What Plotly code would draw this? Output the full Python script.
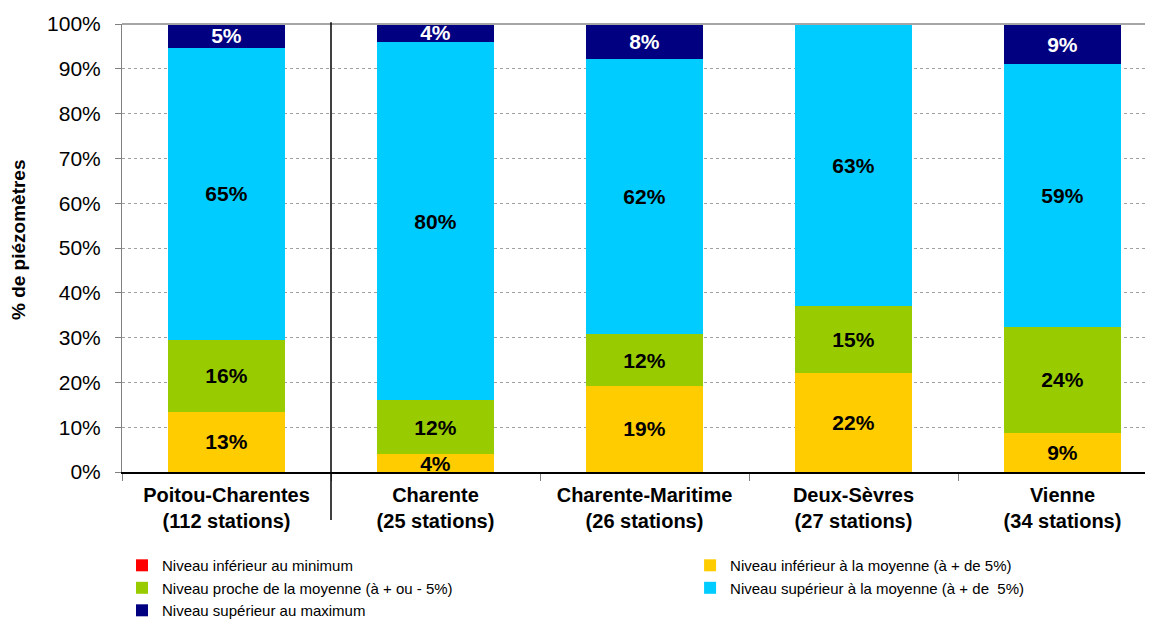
import plotly.graph_objects as go

categories = ["<b>Poitou-Charentes</b><br><b>(112 stations)</b>", "<b>Charente</b><br><b>(25 stations)</b>",
              "<b>Charente-Maritime</b><br><b>(26 stations)</b>", "<b>Deux-Sèvres</b><br><b>(27 stations)</b>",
              "<b>Vienne</b><br><b>(34 stations)</b>"]

series_names = ["Niveau inférieur au minimum",
                "Niveau inférieur à la moyenne (à + de 5%)",
                "Niveau proche de la moyenne (à + ou - 5%)",
                "Niveau supérieur à la moyenne (à + de  5%)",
                "Niveau supérieur au maximum"]

inf_min = [0, 0, 0, 0, 0]
inf_moy = [13.4, 4.0, 19.2, 22.2, 8.8]
proche_moy = [16.1, 12.0, 11.5, 14.8, 23.5]
sup_moy = [65.2, 80.0, 61.5, 63.0, 58.8]
sup_max = [5.4, 4.0, 7.7, 0.0, 8.8]

colors = ["#FF0000", "#FFCC00", "#99CC00", "#00CCFF", "#000080"]
text_colors = ["#000000", "#000000", "#000000", "#000000", "#FFFFFF"]
legend_ids = ["legend", "legend2", "legend", "legend2", "legend"]

all_series = [inf_min, inf_moy, proche_moy, sup_moy, sup_max]

fig = go.Figure()
for name, vals, col, tcol, lg in zip(series_names, all_series, colors, text_colors, legend_ids):
    fig.add_trace(go.Bar(
        x=categories, y=vals, name=name,
        marker=dict(color=col, line=dict(width=0)),
        width=0.56,
        text=[f"<b>{round(v)}%</b>" if v > 0 else "" for v in vals],
        textposition="inside", insidetextanchor="middle",
        textfont=dict(family="Liberation Sans, Arial, sans-serif", size=21, color=tcol),
        hoverinfo="skip",
        legend=lg,
    ))

legend_font = dict(family="Liberation Sans, Arial, sans-serif", size=15, color="#000000")

fig.update_layout(
    barmode="stack",
    width=1145, height=612,
    margin=dict(l=114, r=0, t=16, b=148, autoexpand=False),
    plot_bgcolor="white", paper_bgcolor="white",
    uniformtext=dict(minsize=21, mode="show"),
    font=dict(family="Liberation Sans, Arial, sans-serif", color="#000000"),
    legend=dict(
        orientation="v", x=0.0, xanchor="left", y=-0.172, yanchor="top",
        font=legend_font, traceorder="normal", itemwidth=30, tracegroupgap=0,
        bgcolor="rgba(0,0,0,0)",
    ),
    legend2=dict(
        orientation="v", x=0.551, xanchor="left", y=-0.172, yanchor="top",
        font=legend_font, traceorder="normal", itemwidth=30, tracegroupgap=0,
        bgcolor="rgba(0,0,0,0)",
    ),
    showlegend=True,
)

fig.update_yaxes(
    range=[0, 100], dtick=10, ticksuffix="%",
    tickfont=dict(size=21), ticklabelstandoff=10,
    showgrid=True, gridcolor="#A0A0A0", griddash="dot", gridwidth=1,
    showline=True, linecolor="#808080", linewidth=1,
    ticks="outside", ticklen=6, tickcolor="#808080",
    mirror=False, zeroline=False,
)
fig.update_xaxes(
    range=[-0.5, 4.433],
    tickfont=dict(size=20, family="Liberation Sans, Arial, sans-serif"),
    ticklabelstandoff=4,
    showline=True, linecolor="#000000", linewidth=1.5,
    ticks="outside", tickson="boundaries", ticklen=7, tickcolor="#808080",
    showgrid=False,
)

# top border of plot area
fig.add_shape(type="line", xref="paper", yref="paper", x0=0, x1=1, y0=1, y1=1,
              line=dict(color="#A6A6A6", width=2))
# separator after first category
fig.add_shape(type="line", xref="x", yref="paper", x0=0.5, x1=0.5, y0=1.004, y1=-0.107,
              line=dict(color="#000000", width=1.5))

fig.add_annotation(text="<b>% de piézomètres</b>", xref="paper", yref="paper",
                   x=-0.1009, y=0.52, textangle=-90, showarrow=False,
                   font=dict(size=19), xanchor="center", yanchor="middle")

fig.write_html("out.html")
